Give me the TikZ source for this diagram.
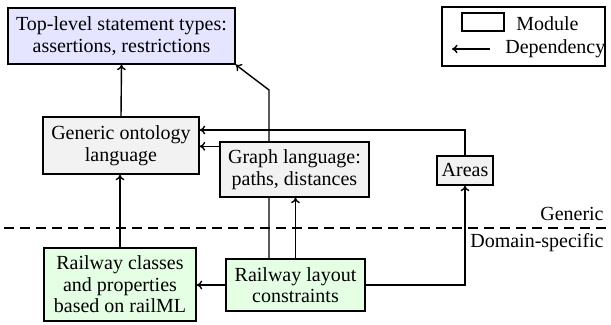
\documentclass[tikz,border=0pt]{standalone}
\usepackage{fontspec}
\setmainfont{Liberation Serif}
\usetikzlibrary{backgrounds,arrows.meta}
\begin{document}
\begin{tikzpicture}[x=0.5pt,y=-0.5pt,
  every node/.style={font=\fontsize{10}{10.8}\selectfont},
  module/.style={draw, line width=0.65pt, align=center, inner sep=0pt},
  dep/.style={-{To[length=2.8pt,width=4.4pt]}, line width=0.7pt},
  sepline/.style={line width=0.65pt, dash pattern=on 5pt off 3pt}]
\useasboundingbox (0,0) rectangle (611,325);
% modules
\node[module, fill=blue!10, minimum width=113.5pt, minimum height=28pt] (top) at (121.5,36) {Top-level statement types:\\assertions, restrictions};
\node[module, fill=gray!10, minimum width=78pt, minimum height=28.5pt] (gen) at (121,145.5) {Generic ontology\\language};
\node[module, fill=gray!10, minimum width=74.5pt, minimum height=27.5pt] (graph) at (294.5,169.5) {Graph language:\\paths, distances};
\node[module, fill=gray!10, minimum width=28pt, minimum height=14.5pt] (areas) at (465,170.5) {Areas};
\node[module, fill=green!10, minimum width=76pt, minimum height=36.5pt] (classes) at (120,284.5) {Railway classes\\and properties\\based on railML};
\node[module, fill=green!10, minimum width=69.5pt, minimum height=26pt] (layout) at (295.5,285) {Railway layout\\constraints};
% legend
\node[draw, line width=0.65pt, minimum width=81.5pt, minimum height=29.5pt] (legend) at (523.5,36.5) {};
\node[draw, line width=0.65pt, minimum width=21pt, minimum height=9pt, inner sep=0pt] (legmod) at (483,22) {};
\node[anchor=west, inner sep=0pt] (legmodtxt) at (516,24) {Module};
\coordinate (legA) at (490,49);
\coordinate (legB) at (452,49);
\draw[dep] (legA) -- (legB);
\node[anchor=west, inner sep=0pt] (legdeptxt) at (505,49) {Dependency};
% separator
\coordinate (sepL) at (4,228);
\coordinate (sepR) at (611,228);
\draw[sepline] (sepL) -- (sepR);
\node[anchor=east, inner sep=0pt] (generic) at (604,214) {Generic};
\node[anchor=east, inner sep=0pt] (domain) at (604,243) {Domain-specific};
% dependencies
\draw[dep] (gen.north) -- (top.south);
\begin{scope}[on background layer]
\coordinate (lt) at ([xshift=-13.25pt]layout.north);
\coordinate (bend) at (lt |- 0,90);
\draw[dep] (lt) -- (bend) -- (top.south east);
\end{scope}
\coordinate (ag) at ([yshift=7.75pt]gen.east);
\draw[dep] (areas.north) |- (ag);
\coordinate (g1) at ([yshift=-2.5pt]graph.north west);
\draw[dep] (g1) -- (g1 -| gen.east);
\draw[dep] (layout.north) -- (layout.north |- graph.south);
\draw[dep] (layout.west) -- (layout.west -| classes.east);
\draw[dep] (layout.east) -| (areas.south);
\draw[dep] (classes.north) -- (classes.north |- gen.south);
\end{tikzpicture}
\end{document}
